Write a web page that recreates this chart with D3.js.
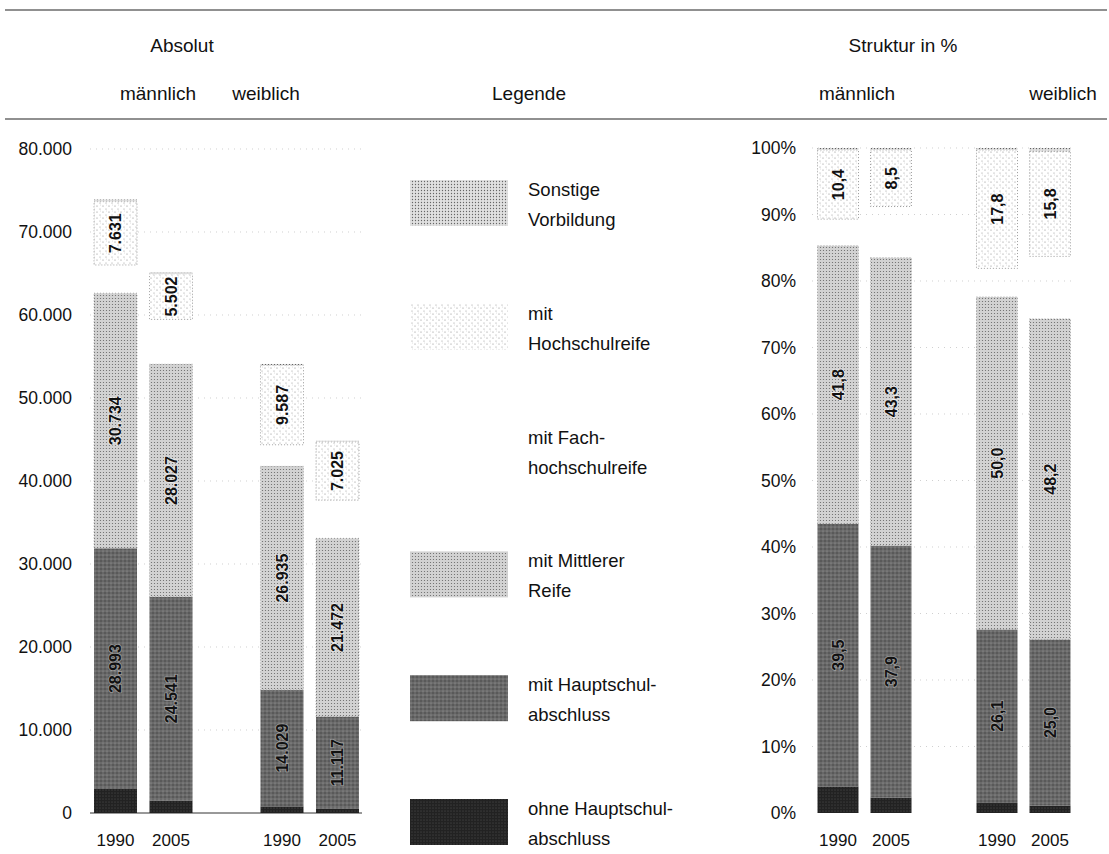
<!DOCTYPE html>
<html>
<head>
<meta charset="utf-8">
<script src="https://cdn.jsdelivr.net/npm/d3@7"></script>
<style>
  html, body { margin: 0; padding: 0; background: #fff; }
  svg { display: block; font-family: "Liberation Sans", Arial, sans-serif; }
</style>
</head>
<body>
<svg id="chart" width="1109" height="854"></svg>
<script>
// Schulabgänger nach Vorbildung, absolut und Struktur in %
const barIds   = ["m1990", "m2005", "gap", "w1990", "w2005"];
const years    = ["1990", "2005", "", "1990", "2005"];
const keys     = ["ohne", "haupt", "mittl", "fach", "hoch", "sonst"];

// absolute Werte (Personen)
const absOhne  = [2900, 1500, 0, 800, 500];
const absHaupt = [28993, 24541, 0, 14029, 11117];
const absMittl = [30734, 28027, 0, 26935, 21472];
const absFach  = [3400, 5400, 0, 2600, 4600];
const absHoch  = [7631, 5502, 0, 9587, 7025];
const absSonst = [250, 200, 0, 150, 150];

// Struktur in %
const pctOhne  = [4.0, 2.3, 0, 1.5, 1.1];
const pctHaupt = [39.5, 37.9, 0, 26.1, 25.0];
const pctMittl = [41.8, 43.3, 0, 50.0, 48.2];
const pctFach  = [4.0, 7.7, 0, 4.3, 9.4];
const pctHoch  = [10.4, 8.5, 0, 17.8, 15.8];
const pctSonst = [0.3, 0.3, 0, 0.3, 0.5];

const absTicks = [0, 10000, 20000, 30000, 40000, 50000, 60000, 70000, 80000];
const pctTicks = [0, 10, 20, 30, 40, 50, 60, 70, 80, 90, 100];

const labeledKeys = ["haupt", "mittl", "hoch"];

const legendItems = [
  { key: "sonst", lines: ["Sonstige", "Vorbildung"] },
  { key: "hoch",  lines: ["mit", "Hochschulreife"] },
  { key: "fach",  lines: ["mit Fach-", "hochschulreife"] },
  { key: "mittl", lines: ["mit Mittlerer", "Reife"] },
  { key: "haupt", lines: ["mit Hauptschul-", "abschluss"] },
  { key: "ohne",  lines: ["ohne Hauptschul-", "abschluss"] }
];

const de = d3.formatLocale({ decimal: ",", thousands: ".", grouping: [3], currency: ["", " €"] });
const fmtAbs = de.format(",d");
const fmtPct = de.format(",.1f");

const svg = d3.select("#chart");
const defs = svg.append("defs");

// stipple textures for the segments
function stipple(id, size, base, dots) {
  const p = defs.append("pattern").attr("id", id)
    .attr("patternUnits", "userSpaceOnUse").attr("width", size).attr("height", size);
  p.append("rect").attr("width", size).attr("height", size).attr("fill", base);
  dots.forEach(d => p.append("circle").attr("cx", d[0]).attr("cy", d[1]).attr("r", d[2]).attr("fill", d[3]));
}
stipple("p-ohne", 3, "#222", [[1, 1, 0.55, "#555"]]);
stipple("p-haupt", 4, "#6a6a6a", [[1, 1, 0.7, "#3a3a3a"], [3, 3, 0.6, "#a0a0a0"], [3, 1, 0.4, "#505050"]]);
stipple("p-mittl", 3, "#d2d2d2", [[1.5, 1.5, 0.6, "#666"]]);
stipple("p-hoch", 6, "#ffffff", [[1, 2, 0.6, "#8a8a8a"], [4, 5, 0.6, "#9a9a9a"], [4.5, 1, 0.4, "#bbb"]]);
stipple("p-sonst", 3, "#e0e0e0", [[1.5, 1.5, 0.65, "#666"]]);

const fills = {
  ohne: "url(#p-ohne)", haupt: "url(#p-haupt)", mittl: "url(#p-mittl)",
  fach: "none", hoch: "url(#p-hoch)", sonst: "url(#p-sonst)"
};

// header rules
svg.append("line").attr("x1", 5).attr("x2", 1107).attr("y1", 10).attr("y2", 10)
  .attr("stroke", "#222").attr("stroke-width", 1.2);
svg.append("line").attr("x1", 5).attr("x2", 1107).attr("y1", 119).attr("y2", 119)
  .attr("stroke", "#222").attr("stroke-width", 1.2);

// headers
const headers = [
  { t: "Absolut", x: 182, y: 52 },
  { t: "männlich", x: 158, y: 100 },
  { t: "weiblich", x: 266, y: 100 },
  { t: "Legende", x: 529, y: 100 },
  { t: "Struktur in %", x: 903, y: 52 },
  { t: "männlich", x: 857, y: 100 },
  { t: "weiblich", x: 1063, y: 100 }
];
svg.append("g").selectAll("text").data(headers).join("text")
  .attr("x", d => d.x).attr("y", d => d.y).attr("text-anchor", "middle")
  .attr("font-size", 19).attr("fill", "#111").text(d => d.t);

function buildTable(cols) {
  return barIds.map((id, i) => {
    const row = { id };
    keys.forEach((k, j) => { row[k] = cols[j][i]; });
    return row;
  });
}

function panel(opts) {
  const { table, y, x, ticks, tickFmt, valFmt, axisX, gridX0, gridX1, baseline } = opts;
  const g = svg.append("g");

  // faint grid behind the bars
  g.append("g").selectAll("line").data(ticks.filter(t => t > 0)).join("line")
    .attr("x1", gridX0).attr("x2", gridX1).attr("y1", d => y(d)).attr("y2", d => y(d))
    .attr("stroke", "#bbb").attr("stroke-width", 0.7).attr("stroke-dasharray", "1,5");
  if (baseline) {
    g.append("line").attr("x1", gridX0).attr("x2", gridX1).attr("y1", y(0)).attr("y2", y(0))
      .attr("stroke", "#333").attr("stroke-width", 1);
  }

  // axis labels
  const ax = g.append("g").attr("transform", `translate(${axisX},0)`)
    .call(d3.axisLeft(y).tickValues(ticks).tickSize(0).tickPadding(0).tickFormat(tickFmt));
  ax.select(".domain").remove();
  ax.attr("font-family", null).attr("font-size", 17.5);
  ax.selectAll("text").attr("fill", "#111");

  const series = d3.stack().keys(keys)(table.filter(r => r.id !== "gap"));
  const bw = x.bandwidth();

  series.forEach(s => {
    const key = s.key;
    if (key === "fach") return;
    const sg = g.append("g");
    sg.selectAll("rect").data(s).join("rect")
      .attr("x", d => x(d.data.id)).attr("width", bw)
      .attr("y", d => y(d[1])).attr("height", d => y(d[0]) - y(d[1]))
      .attr("fill", fills[key])
      .attr("stroke", key === "hoch" ? "#8a8a8a" : (key === "mittl" ? "#9a9a9a" : "none"))
      .attr("stroke-width", 0.8)
      .attr("stroke-dasharray", "1,2");

    if (labeledKeys.includes(key)) {
      sg.selectAll("text").data(s).join("text")
        .attr("transform", d => `translate(${x(d.data.id) + bw / 2},${(y(d[0]) + y(d[1])) / 2}) rotate(-90)`)
        .attr("text-anchor", "middle").attr("dy", "0.36em")
        .attr("font-size", 16).attr("font-weight", "bold").attr("fill", "#111")
        .attr("stroke", key === "haupt" ? "rgba(200,200,200,0.55)" : "rgba(255,255,255,0.6)")
        .attr("stroke-width", 1.6).attr("paint-order", "stroke")
        .text(d => valFmt(d.data[key]));
    }
  });

  // year labels
  g.append("g").selectAll("text").data(barIds.map((id, i) => ({ id, t: years[i] })).filter(d => d.t))
    .join("text")
    .attr("x", d => x(d.id) + bw / 2).attr("y", 846).attr("text-anchor", "middle")
    .attr("font-size", 17).attr("fill", "#111").text(d => d.t);
}

// left: absolute numbers
const xAbs = d3.scaleBand().domain(barIds).range([94, 359]).paddingInner(0.225).paddingOuter(0);
const yAbs = d3.scaleLinear().domain([0, 80000]).range([813, 149]);
panel({
  table: buildTable([absOhne, absHaupt, absMittl, absFach, absHoch, absSonst]),
  y: yAbs, x: xAbs, ticks: absTicks, tickFmt: fmtAbs, valFmt: fmtAbs,
  axisX: 72, gridX0: 90, gridX1: 362, baseline: true
});

// right: structure in percent
const xPct = d3.scaleBand().domain(barIds).range([817.5, 1070.5]).paddingInner(0.2264).paddingOuter(0);
const yPct = d3.scaleLinear().domain([0, 100]).range([813, 148]);
panel({
  table: buildTable([pctOhne, pctHaupt, pctMittl, pctFach, pctHoch, pctSonst]),
  y: yPct, x: xPct, ticks: pctTicks, tickFmt: d => d + "%", valFmt: fmtPct,
  axisX: 796, gridX0: 812, gridX1: 1075, baseline: false
});

// legend
const ly = d3.scaleLinear().domain([0, legendItems.length - 1]).range([180, 799]);
const lg = svg.append("g");
legendItems.forEach((it, i) => {
  const top = ly(i);
  if (fills[it.key] !== "none") {
    lg.append("rect").attr("x", 410).attr("y", top).attr("width", 98).attr("height", 46)
      .attr("fill", fills[it.key]);
  }
  it.lines.forEach((ln, j) => {
    lg.append("text").attr("x", 528).attr("y", top + 16 + j * 30)
      .attr("font-size", 18.5).attr("fill", "#111").text(ln);
  });
});
</script>
</body>
</html>
